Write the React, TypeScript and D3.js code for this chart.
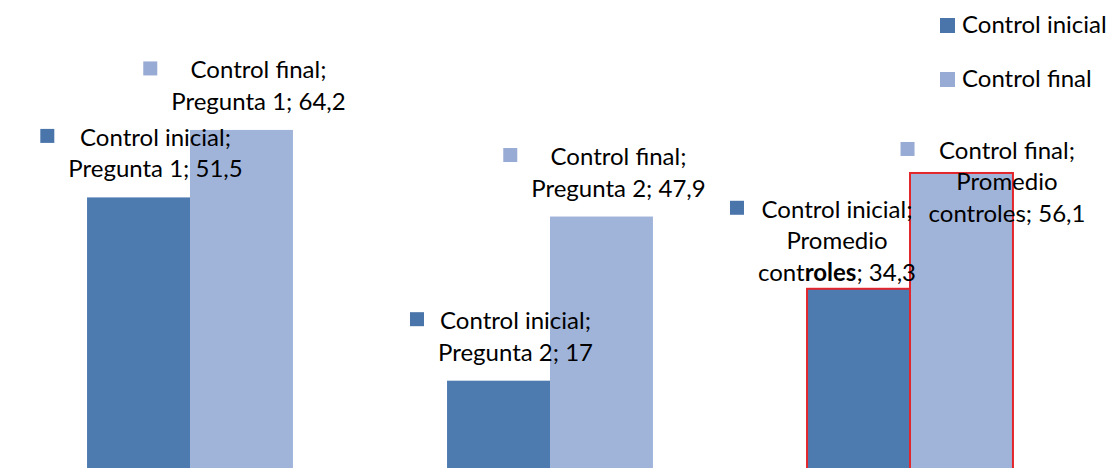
import { useEffect, useRef } from "react";
import * as d3 from "d3";

const categories = ["Pregunta 1", "Pregunta 2", "Promedio controles"];
const seriesNames = ["Control inicial", "Control final"];
const inicialValues = [51.5, 17, 34.3];
const finalValues = [64.2, 47.9, 56.1];
const highlightedCategory = "Promedio controles";
// label text wrapping for each category (last line gets "; value")
const categoryLines = [["Pregunta 1"], ["Pregunta 2"], ["Promedio", "controles"]];
// the odd bold run inside one label of the original
const boldRun = { series: 0, category: 2, text: "roles" };

const BAR_COLORS = ["#4d7bb0", "#a0b4da"];
const KEY_COLORS = ["#4a75aa", "#98abd4"];
const FONT = "Lato, 'Open Sans', sans-serif";

const W = 1112;
const H = 468;

export default function App() {
  const ref = useRef<SVGSVGElement>(null);

  useEffect(() => {
    if (!ref.current) return;
    const svg = d3.select(ref.current);
    svg.selectAll("*").remove();

    const values = [inicialValues, finalValues];

    const x0 = d3
      .scaleBand<string>()
      .domain(categories)
      .range([10, 1090])
      .paddingInner(0.428)
      .paddingOuter(0.214);
    const x1 = d3.scaleBand<string>().domain(seriesNames).range([0, x0.bandwidth()]);
    const y = d3.scaleLinear().domain([0, 80]).range([471, 46]);

    // bars
    const bars = svg.append("g");
    categories.forEach((cat, i) => {
      seriesNames.forEach((s, j) => {
        const v = values[j][i];
        const hl = cat === highlightedCategory;
        bars
          .append("rect")
          .attr("x", x0(cat)! + x1(s)!)
          .attr("y", y(v))
          .attr("width", x1.bandwidth())
          .attr("height", y(0) - y(v))
          .attr("fill", BAR_COLORS[j])
          .attr("stroke", hl ? "#e3262b" : "none")
          .attr("stroke-width", hl ? 2 : 0);
      });
    });

    // data labels with legend keys
    const fontSize = 24;
    const lineH = 31.5;
    const nudges: Record<string, [number, number]> = {
      "0-2": [-38.5, 12],
      "1-2": [28.5, 69],
    };
    const labels = svg.append("g").attr("font-family", FONT).attr("font-size", fontSize).attr("fill", "#000");
    categories.forEach((cat, i) => {
      seriesNames.forEach((s, j) => {
        const v = values[j][i];
        const valStr = String(v).replace(".", ",");
        const lines = [s + ";", ...categoryLines[i]];
        lines[lines.length - 1] += "; " + valStr;
        const [ndx, ndy] = nudges[`${j}-${i}`] ?? [0, 0];
        const cx = x0(cat)! + x1(s)! + x1.bandwidth() / 2 + 17 + ndx;
        const lastBase = y(v) - 20 + ndy;
        const firstBase = lastBase - (lines.length - 1) * lineH;
        const g = labels.append("g");
        let maxW = 0;
        lines.forEach((line, k) => {
          const t = g
            .append("text")
            .attr("x", cx)
            .attr("y", firstBase + k * lineH)
            .attr("text-anchor", "middle");
          const bi =
            boldRun.series === j && boldRun.category === i ? line.indexOf(boldRun.text) : -1;
          if (bi >= 0 && k === lines.length - 1) {
            t.append("tspan").text(line.slice(0, bi));
            t.append("tspan").attr("font-weight", "bold").text(boldRun.text);
            t.append("tspan").text(line.slice(bi + boldRun.text.length));
          } else {
            t.text(line);
          }
          maxW = Math.max(maxW, (t.node() as SVGTextElement).getComputedTextLength());
        });
        g.append("rect")
          .attr("x", cx - maxW / 2 - 14 - 14)
          .attr("y", firstBase - 17)
          .attr("width", 14)
          .attr("height", 14)
          .attr("fill", KEY_COLORS[j]);
      });
    });

    // legend
    const legend = svg
      .append("g")
      .attr("transform", "translate(940,18)")
      .attr("font-family", FONT)
      .attr("font-size", fontSize);
    seriesNames.forEach((s, j) => {
      const row = legend.append("g").attr("transform", `translate(0,${j * 54})`);
      row.append("rect").attr("width", 15).attr("height", 15).attr("fill", KEY_COLORS[j]);
      row.append("text").attr("x", 22).attr("y", 15).attr("fill", "#000").text(s);
    });
  }, []);

  return (
    <svg
      ref={ref}
      width={W}
      height={H}
      style={{ display: "block", position: "absolute", left: 0, top: 0, background: "#fff" }}
    />
  );
}
